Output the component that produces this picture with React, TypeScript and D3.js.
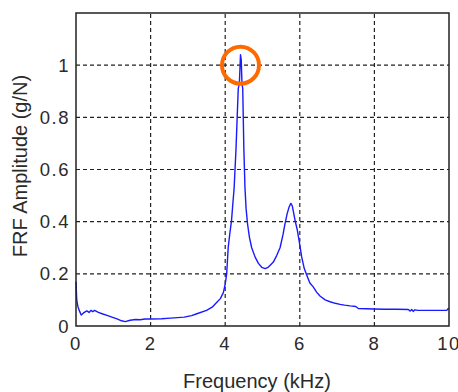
import * as d3 from 'd3'
import { useEffect, useRef } from 'react'

// frequency (kHz) and FRF amplitude (g/N)
const freqKHz = [
    0, 0.02, 0.05, 0.1, 0.14, 0.2, 0.29, 0.35, 0.4, 0.45, 0.5, 0.6, 0.72, 0.85,
    1.0, 1.1, 1.22, 1.32, 1.45, 1.6, 1.72, 1.85, 2.0, 2.3, 2.54, 2.9, 3.1, 3.24,
    3.5, 3.65, 3.77, 3.87, 3.95, 4.0, 4.04, 4.08, 4.12, 4.17, 4.2, 4.24, 4.29,
    4.35, 4.38, 4.41, 4.43, 4.45, 4.47, 4.5, 4.53, 4.56, 4.6, 4.65, 4.71, 4.8,
    4.89, 4.98, 5.07, 5.15, 5.22, 5.29, 5.38, 5.47, 5.55, 5.6, 5.66, 5.71, 5.76,
    5.8, 5.84, 5.88, 5.93, 5.99, 6.05, 6.12, 6.2, 6.27, 6.36, 6.45, 6.54, 6.68,
    6.81, 6.95, 7.08, 7.2, 7.35, 7.5, 7.57, 7.8, 7.97, 8.3, 8.6, 8.91, 8.96, 9.0,
    9.04, 9.08, 9.17, 9.5, 9.8, 9.94, 9.97, 10,
]
const amplitude = [
    0.17, 0.1, 0.075, 0.055, 0.042, 0.05, 0.058, 0.052, 0.06, 0.055, 0.06,
    0.052, 0.046, 0.04, 0.032, 0.027, 0.02, 0.017, 0.022, 0.025, 0.024, 0.027,
    0.027, 0.028, 0.03, 0.034, 0.04, 0.047, 0.06, 0.072, 0.09, 0.105, 0.128,
    0.16, 0.2, 0.3, 0.35, 0.405, 0.46, 0.53, 0.68, 0.91, 0.93, 1.04, 1.02, 0.93,
    0.91, 0.68, 0.53, 0.45, 0.39, 0.34, 0.3, 0.265, 0.24, 0.225, 0.22, 0.225,
    0.235, 0.245, 0.27, 0.3, 0.35, 0.39, 0.43, 0.455, 0.47, 0.46, 0.43, 0.4,
    0.37, 0.32, 0.265, 0.22, 0.19, 0.165, 0.15, 0.13, 0.115, 0.1, 0.093, 0.087,
    0.083, 0.08, 0.077, 0.075, 0.067, 0.066, 0.065, 0.064, 0.064, 0.063, 0.057,
    0.063, 0.056, 0.062, 0.06, 0.06, 0.06, 0.06, 0.066, 0.066,
]
const xTicks = [0, 2, 4, 6, 8, 10]
const yTicks = [0, 0.2, 0.4, 0.6, 0.8, 1]
// circled resonance peak
const highlight = { f: 4.41, a: 1.0 }

const width = 458
const height = 392

export default function App() {
    const svgRef = useRef<SVGSVGElement>(null)

    useEffect(() => {
        if (!svgRef.current) return
        const margin = { top: 13, right: 9, bottom: 66, left: 76 }
        const svg = d3.select(svgRef.current)
        svg.selectAll('*').remove()

        const x = d3
            .scaleLinear()
            .domain([0, 10])
            .range([margin.left, width - margin.right])
        const y = d3
            .scaleLinear()
            .domain([0, 1.2])
            .range([height - margin.bottom, margin.top])

        const font = '"Liberation Sans", Arial, sans-serif'

        // grid
        const grid = svg.append('g')
            .attr('stroke', '#222')
            .attr('stroke-width', 1.2)
            .attr('stroke-dasharray', '4,3')
        grid.selectAll('line.vx')
            .data(xTicks.slice(1, -1))
            .enter()
            .append('line')
            .attr('x1', (d) => x(d))
            .attr('x2', (d) => x(d))
            .attr('y1', y(0))
            .attr('y2', y(1.2))
        grid.selectAll('line.hy')
            .data(yTicks.slice(1))
            .enter()
            .append('line')
            .attr('x1', x(0))
            .attr('x2', x(10))
            .attr('y1', (d) => y(d))
            .attr('y2', (d) => y(d))

        // curve
        const pts = freqKHz.map((f, i) => [f, amplitude[i]] as [number, number])
        const line = d3
            .line<[number, number]>()
            .x((d) => x(d[0]))
            .y((d) => y(d[1]))
        svg.append('path')
            .attr('d', line(pts))
            .attr('fill', 'none')
            .attr('stroke', '#1a1aff')
            .attr('stroke-width', 1.4)
            .attr('stroke-linejoin', 'round')

        // frame
        svg.append('rect')
            .attr('x', x(0))
            .attr('y', y(1.2))
            .attr('width', x(10) - x(0))
            .attr('height', y(0) - y(1.2))
            .attr('fill', 'none')
            .attr('stroke', '#222')
            .attr('stroke-width', 1.5)

        // tick labels
        svg.append('g')
            .selectAll('text')
            .data(yTicks)
            .enter()
            .append('text')
            .attr('x', x(0) - 6)
            .attr('y', (d) => y(d) + 6.5)
            .attr('text-anchor', 'end')
            .attr('font-family', font)
            .attr('font-size', 18.5)
            .attr('letter-spacing', 1.5)
            .attr('fill', '#2a2a2a')
            .text((d) => String(d))
        svg.append('g')
            .selectAll('text')
            .data(xTicks)
            .enter()
            .append('text')
            .attr('x', (d) => x(d))
            .attr('y', y(0) + 23.5)
            .attr('text-anchor', 'middle')
            .attr('font-family', font)
            .attr('font-size', 18.5)
            .attr('letter-spacing', 1.5)
            .attr('fill', '#2a2a2a')
            .text((d) => String(d))

        // axis titles
        svg.append('text')
            .attr('x', 257)
            .attr('y', 387.5)
            .attr('text-anchor', 'middle')
            .attr('font-family', font)
            .attr('font-size', 20)
            .attr('fill', '#2a2a2a')
            .text('Frequency (kHz)')
        svg.append('text')
            .attr('transform', 'translate(27,166) rotate(-90)')
            .attr('text-anchor', 'middle')
            .attr('font-family', font)
            .attr('font-size', 20)
            .attr('fill', '#2a2a2a')
            .text('FRF Amplitude (g/N)')

        // highlight circle
        svg.append('circle')
            .attr('cx', x(highlight.f))
            .attr('cy', y(highlight.a))
            .attr('r', 18.5)
            .attr('fill', 'none')
            .attr('stroke', '#ff6a00')
            .attr('stroke-width', 4)
    }, [])

    return (
        <svg
            ref={svgRef}
            width={width}
            height={height}
            style={{ position: 'absolute', left: 0, top: 0, background: 'white' }}
        />
    )
}
